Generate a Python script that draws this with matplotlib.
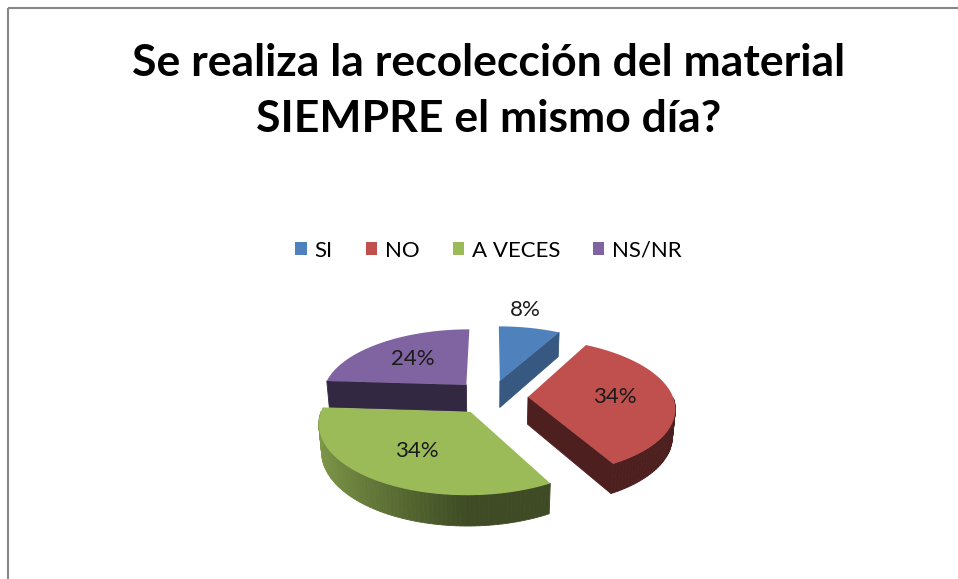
import numpy as np
import matplotlib.pyplot as plt
from matplotlib.patches import Polygon, Rectangle, Patch
import matplotlib.colors as mcolors

# data
labels = ['SI', 'NO', 'A VECES', 'NS/NR']
values = [8, 34, 34, 24]
colors = ['#4F81BD', '#C0504D', '#9BBB59', '#8064A2']
title = 'Se realiza la recolección del material\nSIEMPRE el mismo día?'

# 3d pie settings (pixel units)
cx, cy = 491, 397
R = 145
h = 31
explode = 37
tilt = np.radians(27.4)
D = 900.0
view = np.array([0, -np.cos(tilt), np.sin(tilt)])

font = ['Lato', 'DejaVu Sans']


def project(x, y, z):
    d = y*np.cos(tilt) - z*np.sin(tilt)
    s = D/(D + d)
    return cx + x*s, cy - (y*np.sin(tilt) + z*np.cos(tilt))*s


def shade(c, f):
    r, g, b = mcolors.to_rgb(c)
    return (r*f, g*f, b*f)


fig = plt.figure(figsize=(9.58, 5.79), dpi=100)
ax = fig.add_axes([0, 0, 1, 1])
ax.set_xlim(0, 958)
ax.set_ylim(579, 0)
ax.axis('off')

# chart frame
ax.add_patch(Rectangle((8, 8), 1000, 600, fill=False, ec='#868686', lw=1.5))

total = float(sum(values))
starts = np.cumsum([0] + values[:-1])/total*360
ends = np.cumsum(values)/total*360

slices = []
for i in range(len(values)):
    a0, a1 = starts[i], ends[i]
    m = np.radians((a0 + a1)/2)
    ox, oy = explode*np.sin(m), explode*np.cos(m)
    slices.append((oy, i, a0, a1, ox))

# back to front
slices.sort(key=lambda t: -t[0])

for oy, i, a0, a1, ox in slices:
    col = colors[i]
    arc = np.radians(np.linspace(a0, a1, 80))
    ctr_top = np.array([ox, oy, 0])
    ctr_bot = np.array([ox, oy, -h])

    def rim(a, z):
        return np.array([ox + R*np.sin(a), oy + R*np.cos(a), z])

    faces = []
    # radial faces
    r0 = np.radians(a0)
    r1 = np.radians(a1)
    n0 = np.array([-np.cos(r0), np.sin(r0), 0])
    n1 = np.array([np.cos(r1), -np.sin(r1), 0])
    for n, a in ((n0, r0), (n1, r1)):
        if np.dot(n, view) > 1e-6:
            pts = np.array([ctr_top, rim(a, 0), rim(a, -h), ctr_bot])
            az = np.arctan2(n[0], n[1])
            f = 0.4 + 0.32*max(0, np.sin(az))
            faces.append((pts, shade(col, f)))
    # outer wall
    for a, b in zip(arc[:-1], arc[1:]):
        am = (a + b)/2
        n = np.array([np.sin(am), np.cos(am), 0])
        if np.dot(n, view) > 1e-6:
            pts = np.array([rim(a, 0), rim(b, 0), rim(b, -h), rim(a, -h)])
            f = 0.4 + 0.42*max(0, np.cos(am - np.radians(270)))
            faces.append((pts, shade(col, f)))
    for pts, fc in faces:
        u, v = project(pts[:, 0], pts[:, 1], pts[:, 2])
        ax.add_patch(Polygon(np.column_stack([u, v]), closed=True,
                             fc=fc, ec=fc, lw=0.6))
    # top
    top = np.vstack([ctr_top] + [rim(a, 0) for a in arc])
    u, v = project(top[:, 0], top[:, 1], top[:, 2])
    ax.add_patch(Polygon(np.column_stack([u, v]), closed=True, fc=col, ec='none'))

# percentage labels
for i in range(len(values)):
    m = np.radians((starts[i] + ends[i])/2)
    txt = '%d%%' % round(values[i])
    if values[i] >= 15:
        rr = explode + 0.6*R
        u, v = project(rr*np.sin(m), rr*np.cos(m), 0)
        ax.text(u, v, txt, ha='center', va='center', fontsize=16,
                family=font, color='#1a1a1a')
    else:
        rr = explode + R
        u, v = project(rr*np.sin(m), rr*np.cos(m), 0)
        ax.annotate(txt, (u, v), xytext=(-3, 6), textcoords='offset points',
                    ha='center', va='bottom', fontsize=16, family=font,
                    color='#1a1a1a')

fig.text(0.51, 0.843, title, ha='center', va='center', fontsize=32,
         fontweight='bold', family=font, linespacing=1.48)

handles = [Patch(fc=c, ec='none') for c in colors]
fig.legend(handles, labels, loc='center', bbox_to_anchor=(0.51, 0.567), ncol=4,
           frameon=False, handlelength=0.5, handleheight=0.5, handletextpad=0.35,
           columnspacing=1.5, prop={'family': font, 'size': 16})

fig.savefig('out.png', dpi=100)
